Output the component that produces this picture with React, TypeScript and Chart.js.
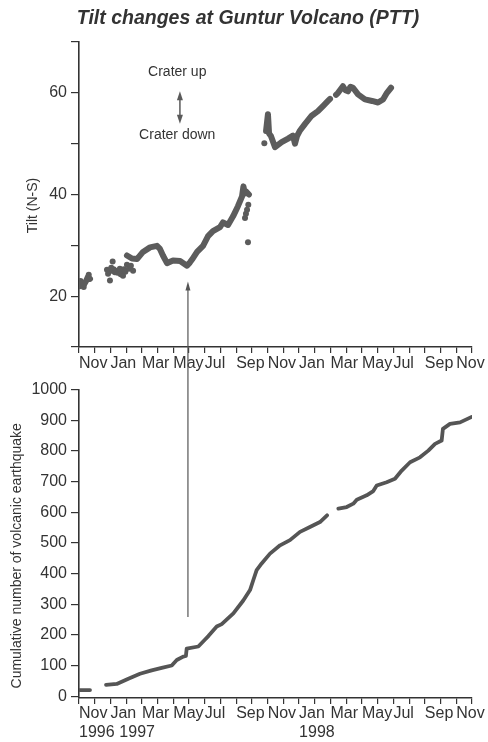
import { useEffect, useRef } from 'react';
import { Chart, registerables } from 'chart.js';

Chart.register(...registerables);

const FONT = '"Liberation Sans", Arial, Helvetica, sans-serif';
const INK = '#333333';
const MARK = '#5c5c5c';

// Month axis: 0 = Nov 1996 ... 25 = Dec 1998
const monthTicks = [0, 1, 2, 3, 4, 5, 6, 7, 8, 9, 10, 11, 12, 13, 14, 15, 16, 17, 18, 19, 20, 21, 22, 23, 24, 25];
const monthLabels = ['Nov', '', 'Jan', '', 'Mar', '', 'May', '', 'Jul', '', 'Sep', '', 'Nov', '', 'Jan', '', 'Mar', '', 'May', '', 'Jul', '', 'Sep', '', 'Nov', ''];
const yearLabels = ['1996', '', '  1997', '', '', '', '', '', '', '', '', '', '', '', '1998', '', '', '', '', '', '', '', '', '', '', ''];

const tiltTicks = [10, 20, 30, 40, 50, 60, 70];
const tiltTickLabels = ['', '20', '', '40', '', '60', ''];
const countTicks = [0, 100, 200, 300, 400, 500, 600, 700, 800, 900, 1000];

const tiltTitle = 'Tilt (N-S)';
const countTitle = 'Cumulative number of volcanic earthquake';

// Tilt (N-S) continuous band; null = data gap
const tiltLineMonths = [
  0.06, 0.19, 0.32, 0.45, 0.57, 0.70,
  1.5,
  3.05, 3.37, 3.69, 4.07, 4.52, 4.96, 5.15, 5.34, 5.60, 5.98, 6.43, 6.87, 7.05, 7.19, 7.51, 7.89, 8.21, 8.52, 8.97, 9.16, 9.48, 9.80, 10.11, 10.37, 10.46, 10.55, 10.62, 10.81,
  11.3,
  11.90, 12.02, 12.09, 12.21, 12.47, 12.89, 13.30, 13.61, 13.74, 13.87, 14.06, 14.38, 14.80, 15.20, 15.52, 15.84, 15.97,
  16.15,
  16.35, 16.48, 16.79, 16.95, 17.11, 17.27, 17.43, 17.75, 18.19, 18.64, 19.02, 19.34, 19.59, 19.85,
];
const tiltLineValues = [
  22.0, 22.6, 22.3, 23.0, 23.8, 23.4,
  null,
  28.0, 27.4, 27.3, 28.7, 29.6, 29.9, 29.3, 28.0, 26.5, 27.0, 26.9, 26.0, 26.6, 27.2, 28.7, 29.9, 31.8, 32.8, 33.6, 34.5, 34.0, 35.7, 37.7, 39.6, 41.6, 40.2, 40.6, 40.0,
  null,
  52.5, 55.8, 52.0, 51.5, 49.3, 50.3, 51.0, 51.6, 50.0, 51.5, 52.6, 53.9, 55.5, 56.4, 57.4, 58.4, 58.8,
  null,
  59.6, 60.0, 61.3, 60.5, 60.3, 61.2, 61.0, 59.7, 58.7, 58.4, 58.1, 58.7, 60.0, 61.0,
];

// Scattered tilt readings
const tiltDotMonths = [0.10, 0.30, 0.62, 1.78, 1.85, 1.91, 1.97, 2.05, 2.10, 2.14, 2.20, 2.28, 2.35, 2.45, 2.54, 2.60, 2.65, 2.74, 2.80, 2.86, 2.95, 3.05, 3.18, 3.30, 3.44, 10.56, 10.62, 10.69, 10.77, 10.75, 11.79];
const tiltDotValues = [23.0, 21.8, 24.2, 25.2, 24.4, 24.9, 23.1, 25.6, 25.0, 26.8, 25.3, 24.7, 25.0, 24.6, 24.8, 25.4, 24.3, 24.5, 24.0, 25.3, 24.8, 26.2, 25.4, 26.0, 25.0, 35.4, 36.2, 37.0, 38.0, 30.6, 50.1];

// Cumulative number of volcanic earthquakes; null = data gap
const countMonths = [
  0.05, 0.70,
  1.2,
  1.72, 2.40, 3.14, 3.88, 4.62, 5.26, 5.90, 6.22, 6.63, 6.80, 6.85, 7.59, 8.02, 8.23, 8.76, 9.08, 9.82, 10.45, 10.88, 11.09, 11.30, 11.62, 12.15, 12.79, 13.42, 14.06, 14.69, 15.33, 15.78,
  16.1,
  16.50, 17.03, 17.45, 17.67, 18.30, 18.72, 18.94, 19.57, 20.10, 20.53, 21.06, 21.69, 22.22, 22.65, 23.07, 23.15, 23.60, 24.24, 24.98,
];
const countValues = [
  20, 20,
  null,
  37, 40, 57, 73, 84, 92, 100, 118, 129, 131, 155, 162, 185, 196, 227, 235, 270, 312, 346, 379, 411, 433, 465, 492, 509, 536, 552, 568, 590,
  null,
  612, 617, 628, 641, 655, 669, 687, 698, 709, 736, 763, 779, 801, 823, 834, 872, 888, 893, 911,
];

// Annotations (in data units)
const craterUpText = 'Crater up';
const craterDownText = 'Crater down';
const craterTextMonth = 6.25;
const craterUpTilt = 64.0;
const craterDownTilt = 51.6;
const craterArrowMonth = 6.42;
const craterArrowTop = 60.3;
const craterArrowBottom = 53.9;
const onsetMonth = 6.93;
const onsetTilt = 22.9;
const onsetCount = 258;

function head(ctx: CanvasRenderingContext2D, x: number, y: number, dir: number, w: number, h: number) {
  ctx.beginPath();
  ctx.moveTo(x, y);
  ctx.lineTo(x - w, y + dir * h);
  ctx.lineTo(x + w, y + dir * h);
  ctx.closePath();
  ctx.fill();
}

function drawAxisTitle(chart: any, text: string, cx: number, shift: number) {
  const { ctx, chartArea } = chart;
  ctx.save();
  ctx.fillStyle = INK;
  ctx.font = `14px ${FONT}`;
  ctx.textAlign = 'center';
  ctx.textBaseline = 'middle';
  ctx.translate(cx, (chartArea.top + chartArea.bottom) / 2 + shift);
  ctx.rotate(-Math.PI / 2);
  ctx.fillText(text, 0, 0);
  ctx.restore();
}

const topAnnot = {
  id: 'topAnnot',
  afterDraw(chart: any) {
    const { ctx, scales } = chart;
    const xs = scales.x;
    const ys = scales.y;
    drawAxisTitle(chart, tiltTitle, 33, 11);
    ctx.save();
    ctx.fillStyle = INK;
    ctx.font = `14px ${FONT}`;
    ctx.textAlign = 'center';
    ctx.textBaseline = 'middle';
    const tx = xs.getPixelForValue(craterTextMonth);
    ctx.fillText(craterUpText, tx, ys.getPixelForValue(craterUpTilt));
    ctx.fillText(craterDownText, tx, ys.getPixelForValue(craterDownTilt));
    // double arrow
    const ax = xs.getPixelForValue(craterArrowMonth);
    const a1 = ys.getPixelForValue(craterArrowTop);
    const a2 = ys.getPixelForValue(craterArrowBottom);
    ctx.strokeStyle = '#5a5a5a';
    ctx.fillStyle = '#5a5a5a';
    ctx.lineWidth = 1.5;
    ctx.beginPath();
    ctx.moveTo(ax, a1 + 5);
    ctx.lineTo(ax, a2 - 5);
    ctx.stroke();
    head(ctx, ax, a1, 1, 3, 9);
    head(ctx, ax, a2, -1, 3, 9);
    // onset arrow (continues into lower chart)
    const ox = xs.getPixelForValue(onsetMonth);
    const oy = ys.getPixelForValue(onsetTilt);
    ctx.strokeStyle = '#555';
    ctx.fillStyle = '#555';
    ctx.lineWidth = 1.2;
    ctx.beginPath();
    ctx.moveTo(ox, oy + 4);
    ctx.lineTo(ox, chart.height);
    ctx.stroke();
    head(ctx, ox, oy, 1, 2.5, 9);
    ctx.restore();
  },
};

const bottomAnnot = {
  id: 'bottomAnnot',
  afterDraw(chart: any) {
    const { ctx, scales } = chart;
    drawAxisTitle(chart, countTitle, 16.7, 12);
    const ox = scales.x.getPixelForValue(onsetMonth);
    const oy = scales.y.getPixelForValue(onsetCount);
    ctx.save();
    ctx.strokeStyle = '#555';
    ctx.lineWidth = 1.2;
    ctx.beginPath();
    ctx.moveTo(ox, 0);
    ctx.lineTo(ox, oy);
    ctx.stroke();
    ctx.restore();
  },
};

function xScale(height: number, padding: number, withYears: boolean) {
  return {
    type: 'linear',
    min: 0,
    max: 25,
    afterBuildTicks: (s: any) => {
      s.ticks = monthTicks.map((v) => ({ value: v }));
    },
    afterFit: (s: any) => {
      s.height = height;
      s.paddingRight = 16;
    },
    ticks: {
      autoSkip: false,
      maxRotation: 0,
      minRotation: 0,
      align: 'start',
      padding,
      color: INK,
      font: { family: FONT, size: 16 },
      callback: (v: number) => {
        const i = monthTicks.indexOf(v);
        if (withYears && yearLabels[i]) return [monthLabels[i], yearLabels[i]];
        return monthLabels[i] ?? '';
      },
    },
    grid: { drawOnChartArea: false, tickLength: 6, color: INK, lineWidth: 1.2 },
    border: { color: INK, width: 1.6 },
  };
}

function yScaleBase(min: number, max: number, ticks: number[], label: (v: number) => string) {
  return {
    type: 'linear',
    min,
    max,
    afterBuildTicks: (s: any) => {
      s.ticks = ticks.map((v) => ({ value: v }));
    },
    afterFit: (s: any) => {
      s.width = 71;
    },
    ticks: {
      padding: 4,
      color: INK,
      font: { family: FONT, size: 16 },
      callback: label,
    },
    grid: { drawOnChartArea: false, tickLength: 8, color: INK, lineWidth: 1.2 },
    border: { color: INK, width: 1.6 },
  };
}

export default function App() {
  const topRef = useRef<HTMLCanvasElement>(null);
  const botRef = useRef<HTMLCanvasElement>(null);

  useEffect(() => {
    const top = new Chart(topRef.current as HTMLCanvasElement, {
      type: 'line',
      data: {
        datasets: [
          {
            type: 'line',
            data: tiltLineMonths.map((m, i) => ({ x: m, y: tiltLineValues[i] })),
            borderColor: MARK,
            borderWidth: 6,
            pointRadius: 0,
            spanGaps: false,
            tension: 0,
            borderCapStyle: 'round',
            borderJoinStyle: 'round',
          },
          {
            type: 'scatter',
            data: tiltDotMonths.map((m, i) => ({ x: m, y: tiltDotValues[i] })),
            pointRadius: 3,
            pointBackgroundColor: MARK,
            pointBorderWidth: 0,
            showLine: false,
          },
        ],
      } as any,
      options: {
        responsive: false,
        animation: false,
        devicePixelRatio: 1,
        layout: { padding: { left: 8, right: 0, top: 0, bottom: 0 } },
        plugins: {
          legend: { display: false },
          tooltip: { enabled: false },
          title: {
            display: true,
            text: 'Tilt changes at Guntur Volcano (PTT)',
            color: INK,
            font: { family: FONT, size: 19.5, weight: 'bold', style: 'italic' },
            padding: { top: 7.3, bottom: 11.3 },
          },
        },
        scales: {
          x: xScale(29, 1, false),
          y: yScaleBase(10, 70, tiltTicks, (v: number) => tiltTickLabels[tiltTicks.indexOf(v)] ?? ''),
        },
      } as any,
      plugins: [topAnnot],
    });

    const bot = new Chart(botRef.current as HTMLCanvasElement, {
      type: 'line',
      data: {
        datasets: [
          {
            data: countMonths.map((m, i) => ({ x: m, y: countValues[i] })),
            borderColor: '#555555',
            borderWidth: 3.8,
            pointRadius: 0,
            spanGaps: false,
            tension: 0,
            borderCapStyle: 'round',
            borderJoinStyle: 'round',
          },
        ],
      } as any,
      options: {
        responsive: false,
        animation: false,
        devicePixelRatio: 1,
        layout: { padding: { left: 8, right: 0, top: 12, bottom: 0 } },
        plugins: { legend: { display: false }, tooltip: { enabled: false } },
        scales: {
          x: xScale(44, 0, true),
          y: yScaleBase(-6, 1000, countTicks, (v: number) => String(v)),
        },
      } as any,
      plugins: [bottomAnnot],
    });

    return () => {
      top.destroy();
      bot.destroy();
    };
  }, []);

  return (
    <div style={{ position: 'absolute', left: 0, top: 0, width: 488, height: 742, background: '#fff' }}>
      <canvas ref={topRef} width={488} height={376} style={{ display: 'block', width: 488, height: 376 }} />
      <canvas ref={botRef} width={488} height={366} style={{ display: 'block', width: 488, height: 366 }} />
    </div>
  );
}
